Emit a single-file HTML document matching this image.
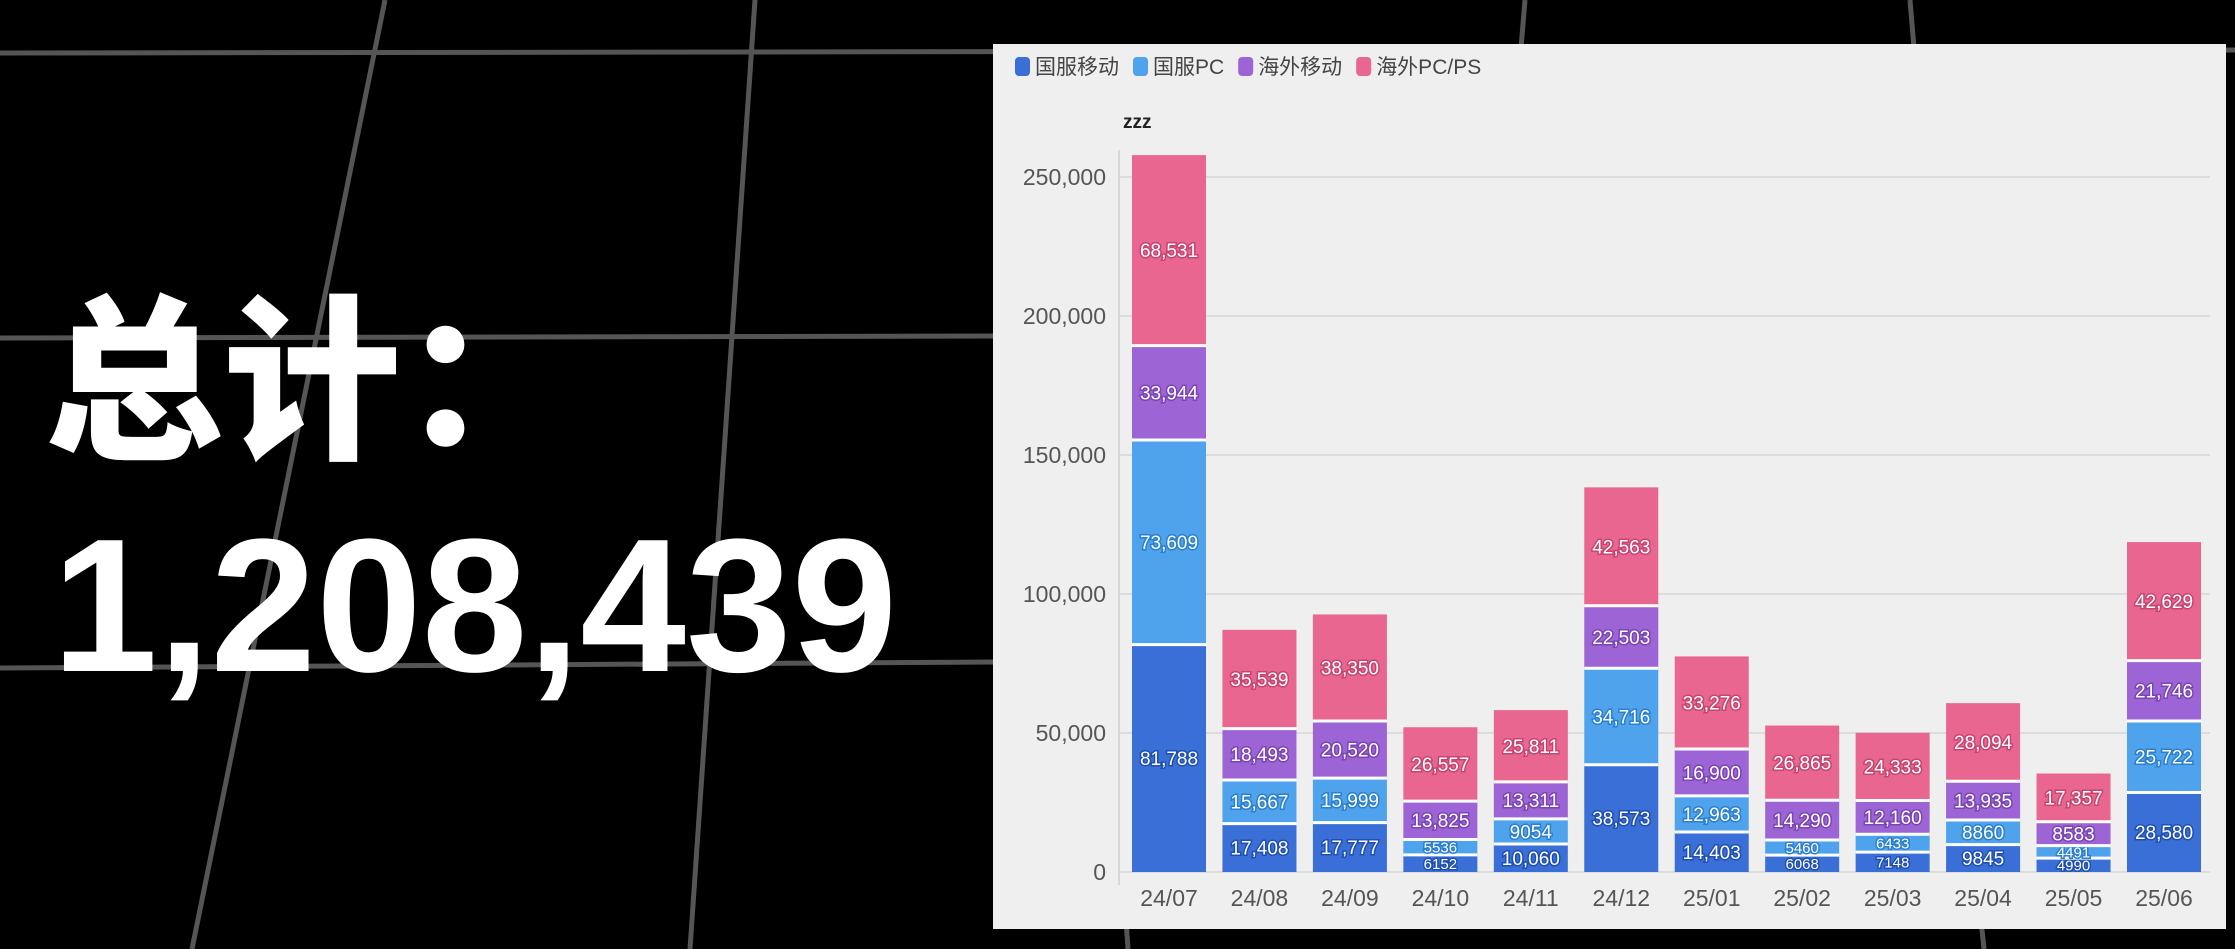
<!DOCTYPE html>
<html><head><meta charset="utf-8"><style>
body{margin:0;width:2235px;height:949px;background:#000;overflow:hidden;position:relative;font-family:"Liberation Sans","Noto Sans CJK SC",sans-serif}
#bg{position:absolute;left:0;top:0}
.big{position:absolute;color:#fff;font-weight:bold;white-space:nowrap}
#panel{position:absolute;left:993px;top:44px;width:1233px;height:885px;background:#efefef}
</style></head><body>
<svg id="bg" width="2235" height="949">
<g stroke="#555" stroke-width="5" fill="none">
<line x1="0" y1="53" x2="2235" y2="50"/>
<line x1="0" y1="338" x2="1000" y2="336"/>
<line x1="0" y1="668" x2="1000" y2="662"/>
<line x1="385" y1="0" x2="192" y2="949"/>
<line x1="755" y1="0" x2="690" y2="949"/>
<line x1="1525" y1="0" x2="1520" y2="60"/>
<line x1="1910" y1="0" x2="1915" y2="60"/>
<line x1="1126" y1="920" x2="1128" y2="949"/>
<line x1="1981" y1="920" x2="1984" y2="949"/>
</g></svg>
<div class="big" style="left:45px;top:240px;font-size:178px;font-family:'Noto Sans CJK SC',sans-serif;font-weight:900">总计：</div>
<div class="big" style="left:52px;top:497px;font-size:190px">1,208,439</div>
<div id="panel"></div>
<svg id="chart" width="2235" height="949" style="position:absolute;left:0;top:0"></svg>
<script>
const categories=["24/07","24/08","24/09","24/10","24/11","24/12","25/01","25/02","25/03","25/04","25/05","25/06"];
const seriesNames=["国服移动","国服PC","海外移动","海外PC/PS"];
const cnMobile=[81788,17408,17777,6152,10060,38573,14403,6068,7148,9845,4990,28580];
const cnPC=[73609,15667,15999,5536,9054,34716,12963,5460,6433,8860,4491,25722];
const osMobile=[33944,18493,20520,13825,13311,22503,16900,14290,12160,13935,8583,21746];
const osPC=[68531,35539,38350,26557,25811,42563,33276,26865,24333,28094,17357,42629];
const yTicks=[0,50000,100000,150000,200000,250000];
const colors=["#3a6fd8","#4fa2ec","#9c64d4","#e8668f"];
const strokes=["#1f4fb0","#2a7fcf","#7a44b4","#c84470"];
const NS="http://www.w3.org/2000/svg";
const svg=document.getElementById('chart');
const y0=872,pxPer=(872-177)/250000;
const yScale=v=>y0-v*pxPer;
const xStart=1169,step=(2164-1169)/(categories.length-1),bw=74;
const xScale=i=>xStart+i*step;
function mk(tag,attrs,txt){const e=document.createElementNS(NS,tag);for(const k in attrs)e.setAttribute(k,attrs[k]);if(txt!==undefined)e.textContent=txt;svg.appendChild(e);return e;}
let lx=1015;
seriesNames.forEach((n,i)=>{
 const r=mk('rect',{x:lx,y:57,width:15,height:19,rx:4,fill:colors[i]});
 
 
 const t=mk('text',{x:lx+20,y:74,'font-size':21,fill:'#444'},n);
 
 
 lx+=20+t.getComputedTextLength()+14;
});
const zt=mk('text',{x:1123,y:128,'font-size':19,'font-weight':'bold',fill:'#222'},'zzz');


yTicks.forEach(v=>{
 const g=mk('line',{x1:1119,x2:2210,y1:yScale(v),y2:yScale(v),stroke:'#dcdcdc','stroke-width':2});
 
 
 const t=mk('text',{x:1106,y:yScale(v)+8,'text-anchor':'end','font-size':23,fill:'#555'},v.toLocaleString('en-US'));
 
 
});
const ax=mk('line',{x1:1119,x2:1119,y1:150,y2:885,stroke:'#d8d8d8','stroke-width':2});


const series=[cnMobile,cnPC,osMobile,osPC];
categories.forEach((c,i)=>{
 let acc=0;const cx=xScale(i);
 series.forEach((s,k)=>{
  const v=s[i];const top=yScale(acc+v),bot=yScale(acc);
  const r=mk('rect',{x:cx-bw/2,y:top,width:bw,height:Math.max(0,bot-top),fill:colors[k]});
  
  
  if(k>0){const l=mk('line',{x1:cx-bw/2,x2:cx+bw/2,y1:bot,y2:bot,stroke:'#fff','stroke-width':3});
   
   }
  const h=bot-top;const fs=h<20?15:19;
  const t=mk('text',{x:cx,y:(top+bot)/2+fs*0.36,'text-anchor':'middle','font-size':fs,fill:'#fff',stroke:strokes[k],'stroke-width':3,'paint-order':'stroke'},v>=10000?v.toLocaleString('en-US'):String(v));
  
  
  acc+=v;
 });
 const xl=mk('text',{x:cx,y:906,'text-anchor':'middle','font-size':23,fill:'#555'},c);
 
 
});
</script>
</body></html>
